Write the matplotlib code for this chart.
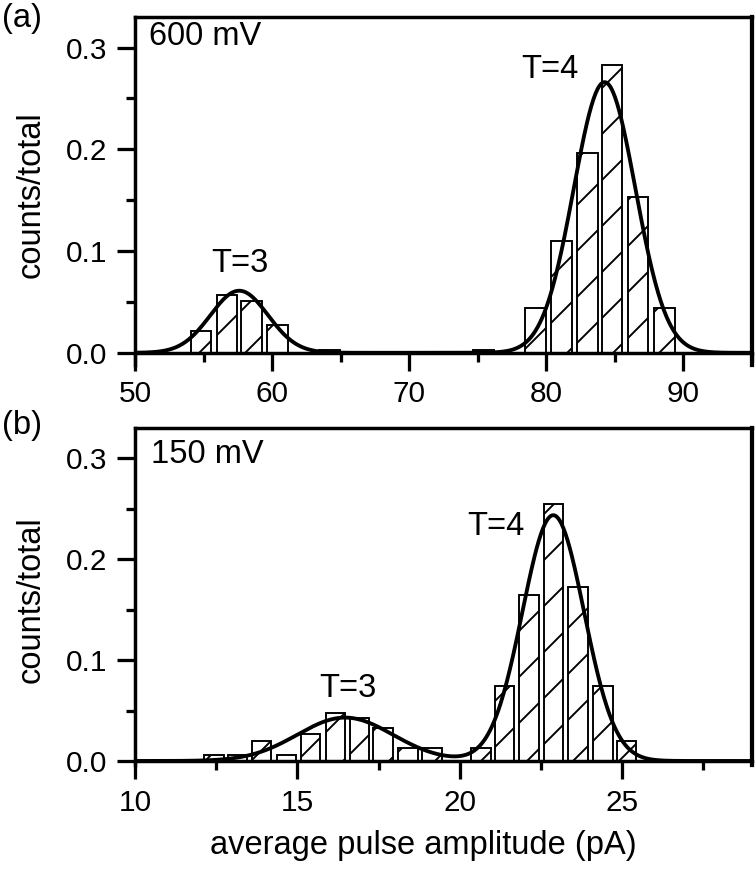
import numpy as np
import matplotlib
matplotlib.use('Agg')
import matplotlib.pyplot as plt
from matplotlib.ticker import MultipleLocator

plt.rcParams['font.family'] = ['Liberation Sans', 'DejaVu Sans']
plt.rcParams['hatch.linewidth'] = 1.0
plt.rcParams['hatch.color'] = 'black'

##################################################################
# Data
##################################################################
# (a) 600 mV
a_centers = [54.8, 56.7, 58.5, 60.4, 64.2, 75.4, 79.2, 81.1, 83.0, 84.8, 86.7, 88.6]
a_counts = [0.021, 0.057, 0.051, 0.027, 0.003, 0.003, 0.044, 0.110, 0.196, 0.283, 0.153, 0.044]
a_width = 1.5
a_fit_mu = [57.6, 84.25]
a_fit_amp = [0.061, 0.266]
a_fit_sigma = [2.1, 2.25]

# (b) 150 mV
b_centers = [12.43, 13.16, 13.90, 14.66, 15.41, 16.17, 16.92, 17.64, 18.40, 19.15,
             20.66, 21.38, 22.14, 22.89, 23.64, 24.41, 25.14]
b_counts = [0.0056, 0.0056, 0.020, 0.0056, 0.0264, 0.0478, 0.043, 0.033, 0.0126, 0.0126,
            0.0132, 0.0746, 0.1647, 0.2545, 0.172, 0.0746, 0.0198]
b_width = 0.6
b_fit_mu = [16.47, 22.88]
b_fit_amp = [0.043, 0.2436]
b_fit_sigma = [1.47, 0.95]


def fit_curve(x, mus, amps, sigmas):
    # sum of the two gaussian fits (T=3 and T=4)
    y = np.zeros_like(x)
    for mu, amp, sig in zip(mus, amps, sigmas):
        y += amp * np.exp(-(x - mu) ** 2 / (2 * sig ** 2))
    return y


##################################################################
# Plot figure
##################################################################
DPI = 138
fig = plt.figure(figsize=(755 / DPI, 873 / DPI), dpi=DPI)
ax1 = fig.add_axes([0.1788, 0.5819, 0.8172, 0.3986])
ax2 = fig.add_axes([0.1788, 0.1237, 0.8172, 0.3860])


def style(ax, xlim, ylim, xmajor, xminor):
    ax.set_xlim(*xlim)
    ax.set_ylim(*ylim)
    ax.xaxis.set_major_locator(MultipleLocator(xmajor))
    ax.xaxis.set_minor_locator(MultipleLocator(xminor))
    ax.yaxis.set_major_locator(MultipleLocator(0.1))
    ax.yaxis.set_minor_locator(MultipleLocator(0.05))
    ax.yaxis.set_major_formatter(plt.FormatStrFormatter('%.1f'))
    ax.spines['bottom'].set_position(('data', 0))
    for s in ['left', 'bottom', 'top']:
        ax.spines[s].set_linewidth(1.8)
    ax.spines['right'].set_linewidth(2.2)
    ax.tick_params(which='major', direction='out', length=9.4, width=1.7,
                   labelsize=15.5, pad=5, top=False, right=False)
    ax.tick_params(which='minor', direction='out', length=4.7, width=1.7,
                   top=False, right=False)
    ax.set_ylabel('counts/total', fontsize=17)
    ax.yaxis.set_label_coords(-0.143, 0.49)


# panel (a)
ax1.bar(a_centers, a_counts, width=a_width, facecolor='white', edgecolor='black',
        linewidth=1.0, hatch='/', zorder=2)
xa = np.linspace(50, 95, 600)
ax1.plot(xa, fit_curve(xa, a_fit_mu, a_fit_amp, a_fit_sigma), color='black', lw=2.0, zorder=3)
style(ax1, (50, 95), (-0.012, 0.33), 10, 5)
ax1.text(0.022, 0.945, '600 mV', transform=ax1.transAxes, fontsize=17, va='center')
ax1.text(57.66, 0.088, 'T=3', fontsize=17, ha='center', va='center')
ax1.text(80.3, 0.278, 'T=4', fontsize=17, ha='center', va='center')

# panel (b)
ax2.bar(b_centers, b_counts, width=b_width, facecolor='white', edgecolor='black',
        linewidth=1.0, hatch='/', zorder=2)
xb = np.linspace(10, 29, 600)
ax2.plot(xb, fit_curve(xb, b_fit_mu, b_fit_amp, b_fit_sigma), color='black', lw=2.0, zorder=3)
style(ax2, (10, 29), (-0.004, 0.33), 5, 2.5)
ax2.text(0.026, 0.92, '150 mV', transform=ax2.transAxes, fontsize=17, va='center')
ax2.text(16.56, 0.072, 'T=3', fontsize=17, ha='center', va='center')
ax2.text(21.13, 0.232, 'T=4', fontsize=17, ha='center', va='center')
ax2.set_xlabel('average pulse amplitude (pA)', fontsize=17)
ax2.xaxis.set_label_coords(0.467, -0.193)

fig.text(0.003, 0.997, '(a)', fontsize=17, va='top', ha='left')
fig.text(0.003, 1 - 410 / 873, '(b)', fontsize=17, va='top', ha='left')

fig.savefig('out.png', dpi=DPI)
